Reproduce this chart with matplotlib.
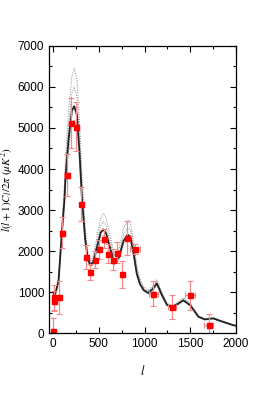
import matplotlib
matplotlib.use("Agg")
import matplotlib.pyplot as plt
from matplotlib.ticker import MultipleLocator

plt.rcParams['font.family'] = ['Liberation Sans', 'DejaVu Sans']
plt.rcParams['mathtext.fontset'] = 'stix'

# theory curve (best fit) and dotted envelopes
l_th = [2, 10, 20, 40, 60, 95, 125, 135, 170, 205, 230, 260, 290, 315, 350,
        380, 410, 440, 480, 520, 550, 580, 620, 670, 720, 770, 815, 845, 880,
        915, 950, 990, 1040, 1095, 1135, 1190, 1245, 1300, 1370, 1425, 1500,
        1590, 1660, 1750, 1860, 1970, 2000]
cl_best = [1000, 920, 940, 1100, 1300, 2430, 3300, 3800, 4750, 5420, 5530,
           5320, 4350, 3300, 2300, 1800, 1650, 1750, 2100, 2450, 2530, 2430,
           2100, 1730, 1850, 2250, 2400, 2350, 1950, 1450, 1200, 1050, 980,
           1090, 1210, 930, 690, 630, 720, 800, 680, 400, 335, 360, 275, 195, 180]
cl_up2 = [1000, 930, 960, 1130, 1370, 2650, 3700, 4300, 5450, 6250, 6450,
          6200, 5100, 3850, 2600, 1950, 1750, 1900, 2350, 2800, 2920, 2800,
          2400, 1900, 2050, 2550, 2750, 2700, 2250, 1650, 1330, 1130, 1050,
          1170, 1300, 1000, 740, 670, 770, 860, 730, 430, 355, 380, 290, 205, 190]
cl_up1 = [1000, 925, 950, 1115, 1335, 2540, 3500, 4050, 5100, 5850, 6000,
          5760, 4720, 3570, 2450, 1870, 1700, 1820, 2220, 2620, 2720, 2610,
          2250, 1810, 1950, 2400, 2570, 2520, 2100, 1550, 1260, 1090, 1015,
          1130, 1255, 965, 715, 650, 745, 830, 705, 415, 345, 370, 283, 200, 185]
cl_lo = [1000, 915, 930, 1085, 1270, 2330, 3130, 3580, 4470, 5080, 5200,
         5000, 4100, 3120, 2200, 1740, 1600, 1690, 2010, 2330, 2400, 2310,
         2000, 1670, 1780, 2150, 2280, 2240, 1870, 1400, 1160, 1020, 950,
         1055, 1170, 900, 670, 610, 700, 775, 660, 390, 325, 350, 268, 190, 175]

# measurements
l_obs = [2, 8, 12, 60, 95, 150, 195, 255, 305, 358, 408, 455, 503, 557,
         605, 656, 703, 751, 809, 896, 1097, 1301, 1501, 1702]
cl_obs = [50, 780, 870, 870, 2450, 3850, 5120, 5030, 3150, 1860, 1490, 1790,
          2040, 2300, 1940, 1790, 1960, 1430, 2320, 2060, 960, 630, 920, 190]
cl_err = [320, 250, 300, 400, 370, 510, 600, 600, 420, 300, 200, 200,
          230, 230, 230, 250, 260, 340, 420, 120, 300, 290, 350, 270]
l_err = [0, 0, 0, 0, 25, 35, 0, 0, 0, 0, 0, 0,
         0, 0, 0, 0, 0, 0, 0, 50, 50, 45, 55, 50]

fig = plt.figure(figsize=(2.74, 3.99), dpi=100)
ax = fig.add_axes([0.179, 0.165, 0.682, 0.72])

for cl in (cl_up2, cl_up1, cl_lo):
    ax.plot(l_th, cl, ls=(0, (1, 1.5)), color='#888888', lw=0.7)
ax.plot(l_th, cl_best, color='#222222', lw=1.3)

ax.errorbar(l_obs, cl_obs, yerr=cl_err, xerr=l_err, fmt='none',
            ecolor='#f38a8a', elinewidth=0.9, capsize=2, capthick=0.8)
ax.plot(l_obs, cl_obs, 's', color='red', ms=3.6, mec='red')

ax.set_xlim(-45, 2000)
ax.set_ylim(0, 7000)
ax.xaxis.set_major_locator(MultipleLocator(500))
ax.xaxis.set_minor_locator(MultipleLocator(250))
ax.yaxis.set_major_locator(MultipleLocator(1000))
ax.yaxis.set_minor_locator(MultipleLocator(500))
ax.tick_params(which='both', direction='in', top=True, right=True,
               labelsize=8.5, width=0.8)
ax.tick_params(which='major', length=4)
ax.tick_params(which='minor', length=2)
for s in ax.spines.values():
    s.set_linewidth(0.9)

ax.set_xlabel('$l$', fontsize=9, labelpad=10)
ax.set_ylabel('$l(l+1)C_l/2\\pi\\ (\\mu K^2)$', fontsize=8, labelpad=1)

fig.savefig('out.png', dpi=100)
